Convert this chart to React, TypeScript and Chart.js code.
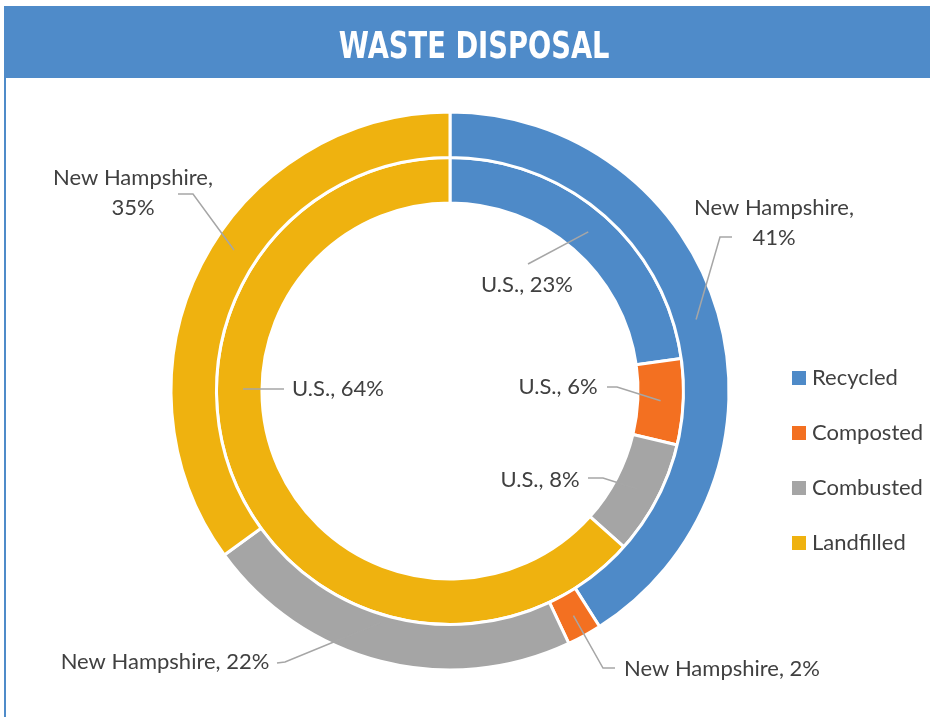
import { useEffect, useRef } from "react";
import { Chart, registerables } from "chart.js";
Chart.register(...registerables);

const categories = ["Recycled", "Composted", "Combusted", "Landfilled"];
const seriesNames = ["New Hampshire", "U.S."];
const newHampshire = [41, 2, 22, 35];
const unitedStates = [23, 6, 8, 64];
const colors = ["#4E8AC8", "#F37021", "#A5A5A5", "#EFB20F"];

// label layout (offsets relative to the doughnut centre)
const labelLayout = [
  { ds: 0, i: 0, wrap: true, tx: 324, ty: -168, pts: [[270, -154], [282, -154]] },
  { ds: 0, i: 1, wrap: false, tx: 272, ty: 278, pts: [[153, 277], [165, 277]] },
  { ds: 0, i: 2, wrap: false, tx: -285, ty: 271, pts: [[-165, 271], [-173, 272]], anchor: [-70, 232] },
  { ds: 0, i: 3, wrap: true, tx: -317, ty: -198, pts: [[-257, -197], [-272, -197]], anchor: [-216, -141] },
  { ds: 1, i: 0, wrap: false, tx: 77, ty: -106, pts: [[78, -127]] },
  { ds: 1, i: 1, wrap: false, tx: 108, ty: -4, pts: [[167, -4], [157, -4]] },
  { ds: 1, i: 2, wrap: false, tx: 90, ty: 89, pts: [[153, 87], [138, 87]] },
  { ds: 1, i: 3, wrap: false, tx: -112, ty: -2, pts: [[-166, -2]], anchor: [-207, -2] },
];

const FONT = "22px Lato";
const TEXT = "#404040";

const labelPlugin = {
  id: "leaderLabels",
  afterDatasetsDraw(chart: any) {
    const ctx = chart.ctx;
    ctx.save();
    const c0 = chart.getDatasetMeta(0).data[0];
    const cx = c0.x;
    const cy = c0.y;
    ctx.font = FONT;
    ctx.textAlign = "center";
    ctx.textBaseline = "middle";
    for (const L of labelLayout) {
      const arc: any = chart.getDatasetMeta(L.ds).data[L.i];
      const p = arc.getProps(["x", "y", "startAngle", "endAngle", "innerRadius", "outerRadius"], true);
      const a = (p.startAngle + p.endAngle) / 2;
      const r = (p.innerRadius + p.outerRadius) / 2;
      let ax = p.x + Math.cos(a) * r;
      let ay = p.y + Math.sin(a) * r;
      if ((L as any).anchor) {
        ax = cx + (L as any).anchor[0];
        ay = cy + (L as any).anchor[1];
      }
      ctx.strokeStyle = "#A6A6A6";
      ctx.lineWidth = 1.5;
      ctx.beginPath();
      ctx.moveTo(ax, ay);
      for (const pt of L.pts) ctx.lineTo(cx + pt[0], cy + pt[1]);
      ctx.stroke();
      const ds = chart.data.datasets[L.ds];
      const name = seriesNames[L.ds];
      const val = ds.data[L.i] + "%";
      const lines = L.wrap ? [name + ",", val] : [name + ", " + val];
      ctx.fillStyle = TEXT;
      const lh = 30;
      const y0 = cy + L.ty - ((lines.length - 1) * lh) / 2;
      lines.forEach((t, k) => ctx.fillText(t, cx + L.tx, y0 + k * lh));
    }
    // legend
    const lx = cx + 342;
    let ly = cy - 13;
    ctx.textAlign = "left";
    chart.data.labels.forEach((lab: string, k: number) => {
      ctx.fillStyle = colors[k];
      ctx.fillRect(lx, ly + k * 55 - 7, 14, 14);
      ctx.fillStyle = TEXT;
      ctx.fillText(lab, lx + 20, ly + k * 55);
    });
    ctx.restore();
  },
};

export default function App() {
  const ref = useRef<HTMLCanvasElement>(null);
  useEffect(() => {
    if (!ref.current) return;
    const chart = new Chart(ref.current, {
      type: "doughnut",
      data: {
        labels: categories,
        datasets: [
          { label: seriesNames[0], data: newHampshire, backgroundColor: colors, borderColor: "#FFFFFF", borderWidth: 3 },
          { label: seriesNames[1], data: unitedStates, backgroundColor: colors, borderColor: "#FFFFFF", borderWidth: 3 },
        ],
      },
      options: {
        animation: false,
        responsive: false,
        cutout: "67.4%",
        layout: { padding: { left: 169.5, right: 199.5, top: 110.5, bottom: 45.5 } },
        plugins: { legend: { display: false }, tooltip: { enabled: false }, title: { display: false } },
      },
      plugins: [labelPlugin],
    });
    return () => chart.destroy();
  }, []);
  return (
    <div style={{ position: "absolute", left: 0, top: 0, width: 930, height: 717, background: "#fff", overflow: "hidden" }}>
      <canvas ref={ref} width={930} height={717} style={{ position: "absolute", left: 0, top: 0, display: "block" }} />
      <div
        style={{
          position: "absolute",
          left: 4,
          top: 6,
          width: 926,
          height: 72,
          background: "#4F8BC9",
          color: "#fff",
          fontFamily: "'DejaVu Sans Condensed', 'Liberation Sans Narrow', sans-serif",
          fontWeight: 700,
          fontSize: 38,
          lineHeight: "72px",
          textAlign: "center",
          paddingLeft: 14,
          boxSizing: "border-box",
        }}
      >
        <span style={{ display: "inline-block", transform: "translateY(3px) scaleX(0.8)" }}>WASTE DISPOSAL</span>
      </div>
      <div style={{ position: "absolute", left: 4, top: 78, width: 2, height: 639, background: "#4F8BC9" }} />
    </div>
  );
}
